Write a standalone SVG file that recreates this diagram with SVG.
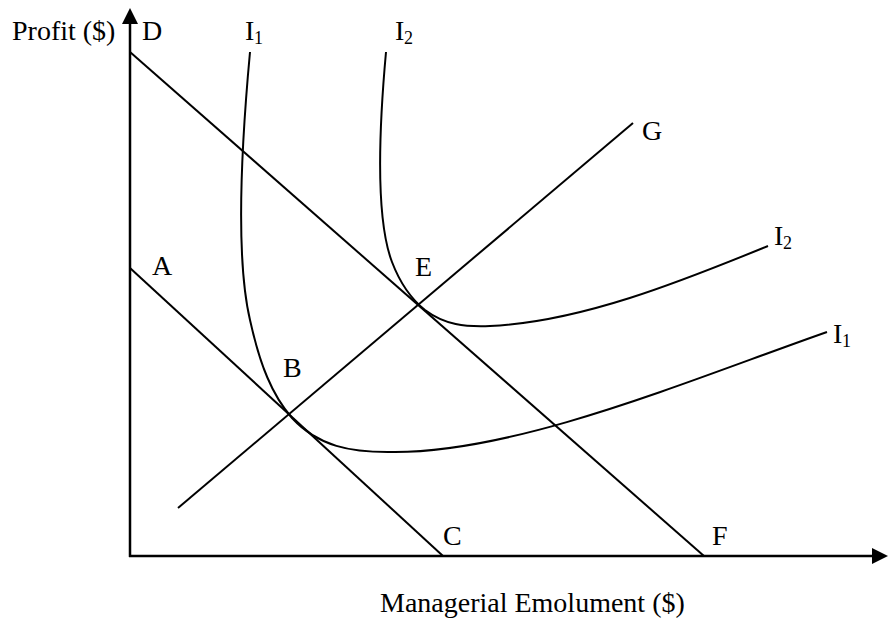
<svg xmlns="http://www.w3.org/2000/svg" width="889" height="620" viewBox="0 0 889 620">
<style>
.t{font-family:"Liberation Serif","Times New Roman",serif;font-size:28px;fill:#000}
.s{font-family:"Liberation Serif","Times New Roman",serif;font-size:18px;fill:#000}
.ln{stroke:#000;stroke-width:2;fill:none}
.ax{stroke:#000;stroke-width:2.5;fill:none}
</style>
<rect width="889" height="620" fill="#fff"/>
<g id="axes">
<line class="ax" x1="130" y1="557" x2="130" y2="22"/>
<polygon points="130,8 122,24 138,24" fill="#000"/>
<line class="ax" x1="129" y1="556" x2="874" y2="556"/>
<polygon points="888,556 872,548 872,564" fill="#000"/>
</g>
<g id="connectors">
<line id="AC" class="ln" x1="130" y1="268" x2="443" y2="556"/>
<line id="DF" class="ln" x1="130" y1="52" x2="704" y2="556"/>
<line id="G-line" class="ln" x1="178" y1="508" x2="633" y2="123"/>
<path id="I1-curve" class="ln" d="M250,52 C240,160 236,260 250,320 C260,365 272,395 292,418 C318,446 350,453 395,452 C520,452 690,380 827,332"/>
<path id="I2-curve" class="ln" d="M386,52 C378,140 376,220 392,262 C400,283 410,298 425,310 C445,325 465,327 490,326 C580,322 680,282 768,246"/>
</g>
<g id="labels">
<text class="t" x="12" y="40">Profit ($)</text>
<text class="t" x="142" y="40">D</text>
<text class="t" x="245" y="40">I</text><text class="s" x="254" y="44">1</text>
<text class="t" x="395" y="40">I</text><text class="s" x="404" y="44">2</text>
<text class="t" x="642" y="140">G</text>
<text class="t" x="774" y="245">I</text><text class="s" x="783" y="249">2</text>
<text class="t" x="152" y="275">A</text>
<text class="t" x="415" y="276">E</text>
<text class="t" x="283" y="377">B</text>
<text class="t" x="833" y="343">I</text><text class="s" x="842" y="347">1</text>
<text class="t" x="443" y="545">C</text>
<text class="t" x="712" y="545">F</text>
<text class="t" x="380" y="612">Managerial Emolument ($)</text>
</g>
</svg>
